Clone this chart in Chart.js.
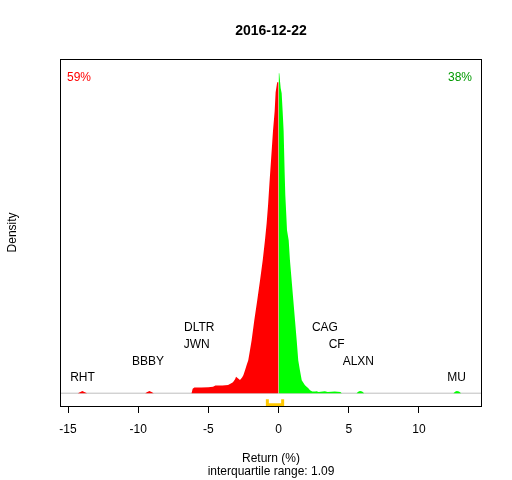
<!DOCTYPE html>
<html>
<head>
<meta charset="utf-8">
<script src="https://cdn.jsdelivr.net/npm/chart.js@4/dist/chart.umd.min.js"></script>
<style>
  html, body { margin: 0; padding: 0; background: #fff; }
  #wrap { width: 512px; height: 480px; }
</style>
</head>
<body>
<div id="wrap"><canvas id="densityChart"></canvas></div>
<script>
// Return density for 2016-12-22, negative side red, positive side green

const xRange = [-15.57, 14.49];
const yRange = [-0.032, 0.836];
const xTicks = [-15, -10, -5, 0, 5, 10];

// density left of zero (red)
const redX = [-14.3, -14.15, -13.98, -13.8, -13.65, -9.5, -9.35, -9.2, -9.05, -8.9,
  -6.2, -6.12, -6.0, -5.5, -5.0, -4.67, -4.5, -4.0, -3.6, -3.4, -3.25, -3.1, -3.03,
  -2.9, -2.75, -2.6, -2.51, -2.39, -2.28, -2.16, -2.05, -1.92, -1.73, -1.52, -1.32,
  -1.13, -0.97, -0.85, -0.75, -0.65, -0.49, -0.40, -0.28, -0.21, -0.10, 0];
const redY = [0, 0.0025, 0.0055, 0.0025, 0, 0, 0.003, 0.0055, 0.003, 0,
  0, 0.011, 0.014, 0.0145, 0.015, 0.016, 0.0195, 0.0195, 0.0205, 0.024, 0.0275, 0.035, 0.041,
  0.0375, 0.033, 0.039, 0.045, 0.0575, 0.07, 0.0825, 0.105, 0.1325, 0.1825, 0.2325, 0.2825,
  0.3325, 0.3825, 0.425, 0.47, 0.525, 0.6075, 0.655, 0.705, 0.7525, 0.7775, 0.7775];

// density right of zero (green)
const greenX = [0, 0.05, 0.15, 0.22, 0.29, 0.36, 0.43, 0.48, 0.55, 0.60, 0.72, 0.81,
  0.93, 1.05, 1.17, 1.29, 1.40, 1.52, 1.65, 1.88, 2.12, 2.24, 2.4, 2.6, 2.71, 2.85,
  3.3, 3.5, 4.0, 4.4, 4.5, 5.55, 5.7, 5.8, 5.95, 6.1, 12.45, 12.6, 12.7, 12.85, 13.0];
const greenY = [0.8, 0.8, 0.7625, 0.75, 0.705, 0.655, 0.555, 0.495, 0.445, 0.4075, 0.3825, 0.3325,
  0.2825, 0.2325, 0.1825, 0.1325, 0.0825, 0.0575, 0.0325, 0.02, 0.0125, 0.0075, 0.004, 0.004, 0.005, 0.003,
  0.005, 0.003, 0.0045, 0.003, 0, 0, 0.004, 0.0055, 0.004, 0, 0, 0.004, 0.0055, 0.004, 0];

// labelled outliers
const stockNames = ['RHT', 'BBBY', 'DLTR', 'JWN', 'CAG', 'CF', 'ALXN', 'MU'];
const stockReturns = [-13.97, -9.3, -5.65, -5.83, 3.30, 4.14, 5.68, 12.68];
const stockLabelY = [0.039, 0.0795, 0.165, 0.1225, 0.165, 0.1225, 0.0795, 0.039];

// interquartile range and share of losers / winners
const iqrBounds = [-0.80, 0.29];
const iqrBracketY = [-0.015, -0.029];
const shareDown = 59;
const shareUp = 38;

const FONT = '"Liberation Sans", Arial, sans-serif';

const toPoints = (xs, ys) => xs.map((x, i) => ({ x: x, y: ys[i] }));

const boxAndLabels = {
    id: 'boxAndLabels',
    afterDatasetsDraw(chart) {
        const { ctx, chartArea, scales } = chart;
        ctx.save();
        ctx.font = '12px ' + FONT;
        ctx.fillStyle = '#000';
        ctx.textAlign = 'center';
        ctx.textBaseline = 'middle';
        stockNames.forEach((name, i) => {
            ctx.fillText(name, scales.x.getPixelForValue(stockReturns[i]),
                scales.y.getPixelForValue(stockLabelY[i]));
        });

        ctx.textAlign = 'left';
        ctx.fillStyle = '#FF0000';
        ctx.fillText(shareDown + '%', chartArea.left + 7, chartArea.top + 19);
        ctx.textAlign = 'right';
        ctx.fillStyle = '#009900';
        ctx.fillText(shareUp + '%', chartArea.right - 10, chartArea.top + 19);

        ctx.strokeStyle = '#000';
        ctx.lineWidth = 1;
        ctx.strokeRect(Math.round(chartArea.left) + 0.5, Math.round(chartArea.top) + 0.5,
            Math.round(chartArea.right - chartArea.left) - 1, Math.round(chartArea.bottom - chartArea.top));
        ctx.restore();
    }
};

document.addEventListener('DOMContentLoaded', () => {
    const ctx = document.getElementById('densityChart');
    new Chart(ctx, {
        type: 'line',
        data: {
            datasets: [
                {
                    label: 'down',
                    data: toPoints(redX, redY),
                    backgroundColor: '#FF0000',
                    borderWidth: 0,
                    fill: 'origin',
                    pointRadius: 0,
                    tension: 0
                },
                {
                    label: 'up',
                    data: toPoints(greenX, greenY),
                    backgroundColor: '#00FF00',
                    borderWidth: 0,
                    fill: 'origin',
                    pointRadius: 0,
                    tension: 0
                },
                {
                    label: 'zero',
                    data: toPoints([0, 0], [0, redY[redY.length - 1]]),
                    borderColor: '#FFFFFF',
                    borderWidth: 1.5,
                    pointRadius: 0,
                    fill: false
                },
                {
                    label: 'baseline',
                    data: toPoints(xRange, [0, 0]),
                    borderColor: '#BEBEBE',
                    borderWidth: 1,
                    pointRadius: 0,
                    fill: false
                },
                {
                    label: 'iqr',
                    data: toPoints([iqrBounds[0], iqrBounds[0], iqrBounds[1], iqrBounds[1]],
                        [iqrBracketY[0], iqrBracketY[1], iqrBracketY[1], iqrBracketY[0]]),
                    borderColor: '#FFC800',
                    borderWidth: 3,
                    pointRadius: 0,
                    fill: false
                }
            ]
        },
        options: {
            responsive: true,
            maintainAspectRatio: false,
            animation: false,
            events: [],
            layout: { padding: { top: 0, right: 30, bottom: 0, left: 0 } },
            plugins: {
                legend: { display: false },
                tooltip: { enabled: false },
                title: {
                    display: true,
                    text: '2016-12-22',
                    fullSize: false,
                    color: '#000',
                    font: { family: FONT, size: 14, weight: 'bold', lineHeight: 1.2 },
                    padding: { top: 23, bottom: 19 }
                }
            },
            scales: {
                x: {
                    type: 'linear',
                    min: xRange[0],
                    max: xRange[1],
                    afterBuildTicks: scale => {
                        scale.ticks = xTicks.map(v => ({ value: v }));
                    },
                    afterFit: scale => { scale.height = 74; },
                    ticks: {
                        color: '#000',
                        padding: 9,
                        maxRotation: 0,
                        font: { family: FONT, size: 12 },
                        callback: v => String(v)
                    },
                    grid: {
                        drawOnChartArea: false,
                        drawTicks: true,
                        tickLength: 7,
                        color: '#000'
                    },
                    border: { display: false },
                    title: {
                        display: true,
                        text: ['Return (%)', 'interquartile range: 1.09'],
                        color: '#000',
                        font: { family: FONT, size: 12, lineHeight: 1.1 },
                        padding: { top: 0, bottom: 2 }
                    }
                },
                y: {
                    min: yRange[0],
                    max: yRange[1],
                    afterFit: scale => { scale.width = 60; },
                    ticks: { display: false },
                    grid: { display: false },
                    border: { display: false },
                    title: {
                        display: true,
                        text: 'Density',
                        color: '#000',
                        font: { family: FONT, size: 12, lineHeight: 1.2 },
                        padding: { top: 5, bottom: 0 }
                    }
                }
            }
        },
        plugins: [boxAndLabels]
    });
});
</script>
</body>
</html>
